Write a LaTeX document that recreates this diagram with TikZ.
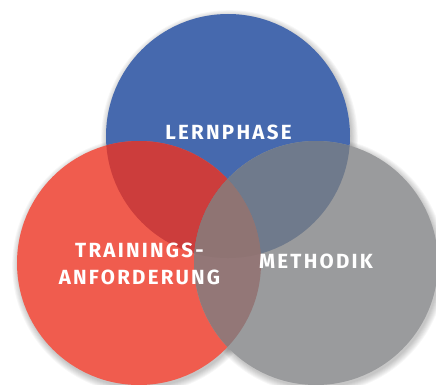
\documentclass[tikz,border=0pt]{standalone}
\usepackage{fontspec}
\setmainfont{Fira Sans}[LetterSpace=11]
\definecolor{cblue}{HTML}{4669AE}
\definecolor{cred}{HTML}{F05C4E}
\definecolor{cgray}{HTML}{9A9B9D}
\definecolor{crb}{HTML}{CC3D3C}
\definecolor{cbg}{HTML}{6F7A8C}
\definecolor{crg}{HTML}{937777}
\definecolor{call}{HTML}{8F7473}
\tikzset{
  lbl/.style={text=white, font=\bfseries\fontsize{20.5}{26.3}\selectfont, align=center, inner sep=0pt},
}
\begin{document}
\begin{tikzpicture}[x=1pt,y=-1pt]
\useasboundingbox (0,0) rectangle (436,385);
\def\R{122}
\coordinate (B) at (228,136);
\coordinate (Rd) at (139,263);
\coordinate (G) at (316,263);
% soft shadows
\foreach \c in {B,Rd,G}{
  \foreach \i in {0,...,7}{
    \fill[black, opacity=0.03] ([shift={(1.5,2.5)}]\c) circle (\R+\i*0.9);
  }
}
\fill[cblue] (B) circle (\R);
\fill[cred] (Rd) circle (\R);
\fill[cgray] (G) circle (\R);
\begin{scope}
  \clip (B) circle (\R);
  \fill[crb] (Rd) circle (\R);
  \fill[cbg] (G) circle (\R);
\end{scope}
\begin{scope}
  \clip (Rd) circle (\R);
  \fill[crg] (G) circle (\R);
  \clip (G) circle (\R);
  \fill[call] (B) circle (\R);
\end{scope}
\node[lbl] (lern) at (228.5,132) {LERNPHASE};
\node[lbl] (train) at (139.5,264) {TRAININGS-\\ANFORDERUNG};
\node[lbl] (meth) at (316,261) {METHODIK};
\end{tikzpicture}
\end{document}
